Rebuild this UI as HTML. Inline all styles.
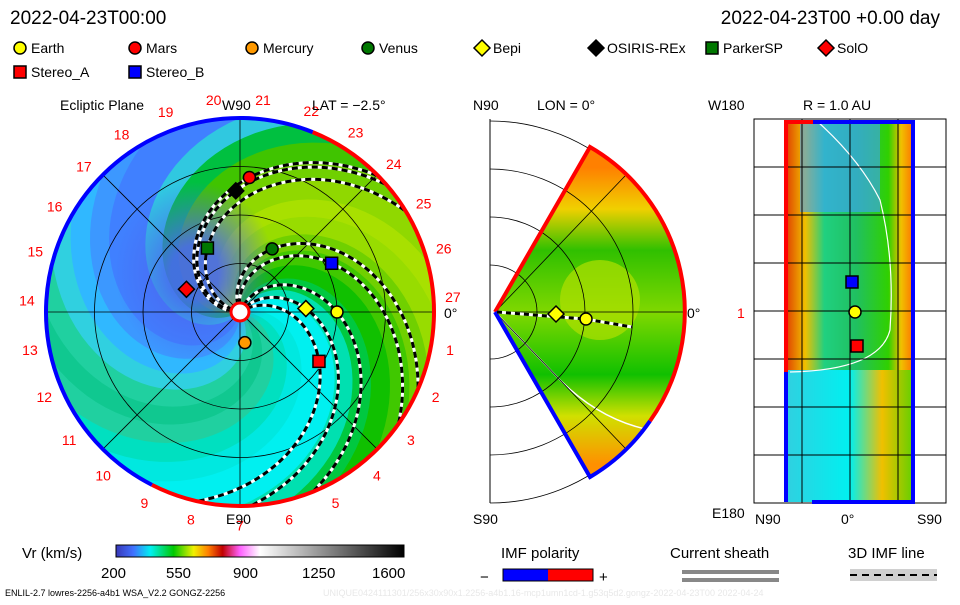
<!DOCTYPE html>
<html><head><meta charset="utf-8"><style>
body{margin:0;background:#fff;font-family:"Liberation Sans",sans-serif}
svg text{font-family:"Liberation Sans",sans-serif}
</style></head><body>
<svg id="root" width="960" height="600" viewBox="0 0 960 600" xmlns="http://www.w3.org/2000/svg">
<defs>
<clipPath id="cc"><circle cx="240" cy="312" r="194"/></clipPath>
<clipPath id="wc"><path d="M495,312 L590,147 A190,190 0 0 1 590,477 Z"/></clipPath>
<radialGradient id="db" cx="0.5" cy="0.5" r="0.5"><stop offset="0.3" stop-color="#4a68f0" stop-opacity="0.9"/><stop offset="1" stop-color="#4a68f0" stop-opacity="0"/></radialGradient>
<linearGradient id="cb" x1="0" x2="1" y1="0" y2="0">
<stop offset="0" stop-color="#3838b8"/><stop offset="0.06" stop-color="#4070ff"/><stop offset="0.12" stop-color="#00f0f0"/>
<stop offset="0.2" stop-color="#00c800"/><stop offset="0.27" stop-color="#f0f000"/><stop offset="0.32" stop-color="#ff8000"/>
<stop offset="0.37" stop-color="#c00000"/><stop offset="0.43" stop-color="#ff60ff"/><stop offset="0.5" stop-color="#ffffff"/>
<stop offset="1" stop-color="#000"/></linearGradient>
<linearGradient id="wg" x1="0" x2="0" y1="0" y2="1">
<stop offset="0.08" stop-color="#ff8000"/><stop offset="0.2" stop-color="#f0d000"/><stop offset="0.32" stop-color="#30c000"/>
<stop offset="0.5" stop-color="#80d800"/><stop offset="0.68" stop-color="#10c000"/><stop offset="0.8" stop-color="#d0e000"/><stop offset="0.94" stop-color="#ff9000"/></linearGradient>
<linearGradient id="rg" x1="0" x2="1" y1="0" y2="0">
<stop offset="0" stop-color="#e04000"/><stop offset="0.15" stop-color="#f0c000"/><stop offset="0.3" stop-color="#20d080"/>
<stop offset="0.55" stop-color="#20c060"/><stop offset="0.8" stop-color="#30d000"/><stop offset="0.9" stop-color="#f0c000"/><stop offset="1" stop-color="#ff7000"/></linearGradient>
<linearGradient id="rg2" x1="0" x2="1" y1="0" y2="0">
<stop offset="0" stop-color="#30d0e0"/><stop offset="0.5" stop-color="#00f0f0"/><stop offset="0.75" stop-color="#f0c000"/><stop offset="1" stop-color="#60d000"/></linearGradient>
</defs>
<text x="10" y="24" font-size="19">2022-04-23T00:00</text>
<text x="940" y="24" font-size="19" text-anchor="end">2022-04-23T00 +0.00 day</text>
<g id="legend" font-size="14"></g>
<g id="ecl"></g>
<g id="mer"></g>
<g id="rp"></g>
<g>
<text x="22" y="558" font-size="15">Vr (km/s)</text>
<rect x="116" y="545" width="288" height="12" fill="url(#cb)" stroke="#000"/>
<text x="101" y="578" font-size="15">200</text><text x="166" y="578" font-size="15">550</text><text x="233" y="578" font-size="15">900</text><text x="302" y="578" font-size="15">1250</text><text x="372" y="578" font-size="15">1600</text>
</g>
<g>
<text x="501" y="558" font-size="15">IMF polarity</text>
<text x="480" y="582" font-size="15">−</text>
<rect x="503" y="569" width="45" height="12" fill="#0000ff"/><rect x="548" y="569" width="45" height="12" fill="#ff0000"/><rect x="503" y="569" width="90" height="12" fill="none" stroke="#000"/>
<text x="599" y="582" font-size="15">+</text>
<text x="670" y="558" font-size="15">Current sheath</text>
<rect x="682" y="570" width="97" height="4" fill="#888"/><rect x="682" y="578" width="97" height="4" fill="#888"/>
<text x="848" y="558" font-size="15">3D IMF line</text>
<rect x="850" y="569" width="87" height="12" fill="#d0d0d0"/><line x1="850" y1="575" x2="937" y2="575" stroke="#000" stroke-width="2" stroke-dasharray="7,5"/>
</g>
<text x="5" y="596" font-size="9">ENLIL-2.7 lowres-2256-a4b1 WSA_V2.2 GONGZ-2256</text>
<text x="323" y="596" font-size="9" fill="#e8e8e8">UNIQUE0424111301/256x30x90x1.2256-a4b1.16-mcp1umn1cd-1.g53q5d2.gongz-2022-04-23T00   2022-04-24</text>
</svg>
<script>
const bodyNames=['Earth','Mars','Mercury','Venus','Bepi','OSIRIS-REx','ParkerSP','SolO','Stereo_A','Stereo_B'];
const bodyR=[1.0,1.39,0.32,0.73,0.68,1.25,0.74,0.6,0.96,1.07];
const bodyLon=[0,86,-81,63,3,92,117,157,-32,28];
const bodyShape=['circle','circle','circle','circle','diamond','diamond','square','diamond','square','square'];
const bodyColor=['#ffff00','#ff0000','#ff9900','#007700','#ffff00','#000000','#007700','#ff0000','#ff0000','#0000ff'];
const spiralBodies=[0,1,3,4,5,6,8,9];
const bandAngles=[0,15,30,45,60,75,90,105,120,135,150,165,180,195,210,225,240,255,270,285,300,315,330,345];
const bandColors=['#a8e000','#90d800','#70d000','#40c400','#00c040','#30c8e0','#4080ff','#4080ff','#3c98ff','#30b8ff','#30d0e0','#20d0a0','#10c890','#20d0a0','#00e0c0','#00e8e0','#00f0f0','#00f0f0','#00e0b0','#00c840','#10c000','#40c800','#70d000','#98dc00'];
const NS='http://www.w3.org/2000/svg';
function mk(t,a,p){const e=document.createElementNS(NS,t);for(const k in a)e.setAttribute(k,a[k]);p.appendChild(e);return e;}
const cx=240,cy=312,S=97,K=68;
function xy(r,deg){const a=deg*Math.PI/180;return [cx+r*S*Math.cos(a),cy-r*S*Math.sin(a)];}
const ecl=document.getElementById('ecl');
const bg=mk('g',{'clip-path':'url(#cc)'},ecl);


mk('circle',{cx:cx,cy:cy,r:194,fill:'#20d0a0'},bg);
for(let i=0;i<bandAngles.length;i++){
  const a0=bandAngles[i],a1=a0+15;let pts=[];
  for(let r=0;r<=2.05;r+=0.05)pts.push(xy(r,a0+K*(2-r)));
  for(let r=2.05;r>=0;r-=0.05)pts.push(xy(r,a1+K*(2-r)+0.5));
  const p=mk('polygon',{points:pts.map(p=>p.join(',')).join(' '),fill:bandColors[i]},bg);
  
  
}
mk('ellipse',{cx:cx-45,cy:cy-40,rx:80,ry:90,fill:'url(#db)'},bg);
[0.5,1,1.5].forEach(r=>mk('circle',{cx:cx,cy:cy,r:r*S,fill:'none',stroke:'#000','stroke-width':0.8},ecl));
[0,45,90,135].forEach(a=>{const p=xy(2,a),q=xy(2,a+180);mk('line',{x1:p[0],y1:p[1],x2:q[0],y2:q[1],stroke:'#000','stroke-width':0.8},ecl);});
spiralBodies.forEach(b=>{
  let pts=[];for(let r=0.08;r<=2.05;r+=0.03)pts.push(xy(r,bodyLon[b]-K*(r-bodyR[b])));
  const d='M'+pts.map(p=>p[0].toFixed(1)+','+p[1].toFixed(1)).join('L');
  const g=mk('g',{'clip-path':'url(#cc)'},ecl);
  
  
  mk('path',{d:d,fill:'none',stroke:'#fff','stroke-width':3},g);
  mk('path',{d:d,fill:'none',stroke:'#000','stroke-width':3,'stroke-dasharray':'6,4'},g);
});
function ring(a0,a1,c){const p=xy(2,a0),q=xy(2,a1);const span=Math.abs(a1-a0);mk('path',{d:'M'+p[0]+','+p[1]+' A194,194 0 '+(span>180?1:0)+' '+(a0>a1?1:0)+' '+q[0]+','+q[1],fill:'none',stroke:c,'stroke-width':4},ecl);}
ring(68,-117,'#ff0000');ring(68,243,'#0000ff');
mk('circle',{cx:cx,cy:cy,r:9,fill:'#fff',stroke:'#ff0000','stroke-width':3},ecl);
const carr=[27,26,25,24,23,22,21,20,19,18,17,16,15,14,13,12,11,10,9,8,7,6,5,4,3,2,1];
for(let i=0;i<carr.length;i++){const a=4+i*13.3;const p=xy(2.2,a);const t=mk('text',{x:p[0],y:p[1]+5,'font-size':14,fill:'#ff0000','text-anchor':'middle'},ecl);t.textContent=carr[i];}
[['Ecliptic Plane',60,110],['W90',222,110],['LAT = −2.5°',312,110],['E90',226,524],['0°',444,318]].forEach(l=>{const t=mk('text',{x:l[1],y:l[2],'font-size':14},ecl);t.textContent=l[0];});
function marker(g,x,y,shape,color,name){
  let e;
  if(shape==='circle')e=mk('circle',{cx:x,cy:y,r:6,fill:color,stroke:'#000','stroke-width':1.5},g);
  else if(shape==='square')e=mk('rect',{x:x-6,y:y-6,width:12,height:12,fill:color,stroke:'#000','stroke-width':1.5},g);
  else e=mk('polygon',{points:x+','+(y-8)+' '+(x+8)+','+y+' '+x+','+(y+8)+' '+(x-8)+','+y,fill:color,stroke:'#000','stroke-width':1.5},g);
  
  
}
bodyNames.forEach((n,i)=>{const p=xy(bodyR[i],bodyLon[i]);marker(ecl,p[0],p[1],bodyShape[i],bodyColor[i],n.toLowerCase()+'-marker');});
const lg=document.getElementById('legend');
const lx=[20,135,252,368,482,596,712,826,20,135],ly=[48,48,48,48,48,48,48,48,72,72];
bodyNames.forEach((n,i)=>{marker(lg,lx[i],ly[i],bodyShape[i],bodyColor[i],'legend-'+n.toLowerCase()+'-symbol');const t=mk('text',{x:lx[i]+11,y:ly[i]+5,'font-size':14},lg);t.textContent=n;

});
const mer=document.getElementById('mer');
mk('line',{x1:490,y1:119,x2:490,y2:503,stroke:'#000'},mer);
[47,95,143,191].forEach(r=>mk('path',{d:'M490,'+(312-r)+' A'+r+','+r+' 0 0 1 490,'+(312+r),fill:'none',stroke:'#000','stroke-width':0.8},mer));
const wg=mk('g',{'clip-path':'url(#wc)'},mer);
mk('rect',{x:490,y:140,width:200,height:345,fill:'url(#wg)'},wg);
mk('ellipse',{cx:600,cy:300,rx:40,ry:40,fill:'#b0e000',opacity:0.7},wg);
mk('path',{d:'M497,314 L560,380 Q600,420 650,430',fill:'none',stroke:'#fff','stroke-width':1.5},wg);
[47,95,143].forEach(r=>mk('path',{d:'M490,'+(312-r)+' A'+r+','+r+' 0 0 1 490,'+(312+r),fill:'none',stroke:'#000','stroke-width':0.8},wg));
mk('line',{x1:495,y1:312,x2:685,y2:312,stroke:'#000','stroke-width':0.8},mer);
mk('line',{x1:495,y1:312,x2:625,y2:176,stroke:'#000','stroke-width':0.8},wg);
mk('line',{x1:495,y1:312,x2:625,y2:448,stroke:'#000','stroke-width':0.8},wg);
mk('path',{d:'M495,312 L590,147 A190,190 0 0 1 650,421',fill:'none',stroke:'#ff0000','stroke-width':4},mer);
mk('path',{d:'M495,312 L590,477 A190,190 0 0 0 650,421',fill:'none',stroke:'#0000ff','stroke-width':4},mer);
mk('path',{d:'M497,312 L585,319 L632,327',fill:'none',stroke:'#fff','stroke-width':3},mer);
mk('path',{d:'M497,312 L585,319 L632,327',fill:'none',stroke:'#000','stroke-width':3,'stroke-dasharray':'5,4'},mer);
marker(mer,556,314,'diamond','#ffff00','bepi-meridional-marker');
marker(mer,586,319,'circle','#ffff00','earth-meridional-marker');
[['N90',473,110],['LON = 0°',537,110],['S90',473,524],['0°',687,318]].forEach(l=>{const t=mk('text',{x:l[1],y:l[2],'font-size':14},mer);t.textContent=l[0];});
const rp=document.getElementById('rp');
mk('rect',{x:786,y:122,width:128,height:380,fill:'url(#rg)'},rp);
mk('rect',{x:800,y:122,width:80,height:90,fill:'#40a0ff',opacity:0.6},rp);
mk('rect',{x:786,y:370,width:128,height:132,fill:'url(#rg2)'},rp);
mk('path',{d:'M818,122 Q860,160 880,200 Q895,260 890,330 Q880,370 790,372',fill:'none',stroke:'#fff','stroke-width':1.2},rp);
for(let i=0;i<=8;i++)mk('line',{x1:754,y1:119+i*48,x2:946,y2:119+i*48,stroke:'#000','stroke-width':1},rp);
mk('rect',{x:754,y:119,width:192,height:384,fill:'none',stroke:'#000'},rp);
[802,850,898].forEach(x=>mk('line',{x1:x,y1:119,x2:x,y2:503,stroke:'#000','stroke-width':1},rp));
mk('path',{d:'M786,372 L786,122 L813,122',fill:'none',stroke:'#ff0000','stroke-width':4},rp);
mk('path',{d:'M813,122 L913,122 L913,502 L812,502',fill:'none',stroke:'#0000ff','stroke-width':4},rp);
mk('path',{d:'M786,372 L786,502',fill:'none',stroke:'#0000ff','stroke-width':4},rp);
marker(rp,852,282,'square','#0000ff','stereo-b-radial-marker');
marker(rp,855,312,'circle','#ffff00','earth-radial-marker');
marker(rp,857,346,'square','#ff0000','stereo-a-radial-marker');
[['W180',708,110,'#000'],['R = 1.0 AU',803,110,'#000'],['1',737,318,'#ff0000'],['E180',712,518,'#000'],['N90',755,524,'#000'],['0°',841,524,'#000'],['S90',917,524,'#000']].forEach(l=>{const t=mk('text',{x:l[1],y:l[2],'font-size':14,fill:l[3]},rp);t.textContent=l[0];});
</script>
</body></html>
